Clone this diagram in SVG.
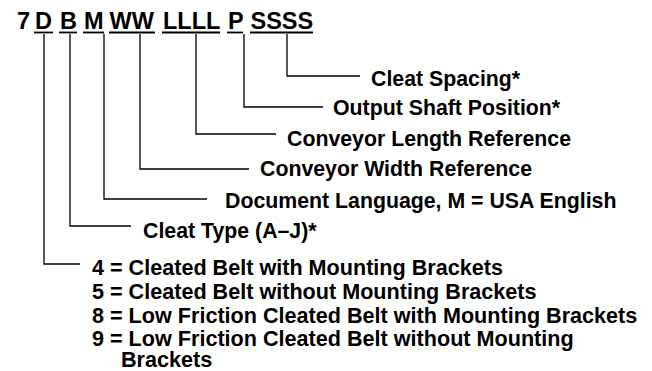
<svg xmlns="http://www.w3.org/2000/svg" width="652" height="371" viewBox="0 0 652 371">
<style>
text{font-family:"Liberation Sans",Arial,Helvetica,sans-serif;font-weight:bold;fill:#000}
.t{font-size:23.5px}
.l{font-size:21.3px}
.b{font-size:21.6px}
.u{stroke:#000;stroke-width:1.8;fill:none}
.c{stroke:#000;stroke-width:1.3;fill:none}
</style>
<rect width="652" height="371" fill="#fff"/>
<g id="code">
<text class="t" x="17" y="29">7</text>
<g id="seg-D"><text class="t" x="35" y="29">D</text><line class="u" x1="34" y1="32.5" x2="53" y2="32.5"/></g>
<g id="seg-B"><text class="t" x="60" y="29">B</text><line class="u" x1="59" y1="32.5" x2="77" y2="32.5"/></g>
<g id="seg-M"><text class="t" x="84" y="29">M</text><line class="u" x1="83" y1="32.5" x2="104" y2="32.5"/></g>
<g id="seg-WW"><text class="t" x="109.5" y="29">WW</text><line class="u" x1="109" y1="32.5" x2="155" y2="32.5"/></g>
<g id="seg-LLLL"><text class="t" x="163" y="29">LLLL</text><line class="u" x1="162" y1="32.5" x2="220" y2="32.5"/></g>
<g id="seg-P"><text class="t" x="228" y="29">P</text><line class="u" x1="227" y1="32.5" x2="243" y2="32.5"/></g>
<g id="seg-SSSS"><text class="t" x="250.5" y="29">SSSS</text><line class="u" x1="250" y1="32.5" x2="313" y2="32.5"/></g>
</g>
<g id="connectors">
<polyline class="c" points="287,34 287,76 360,76"/>
<polyline class="c" points="244,34 244,107 323,107"/>
<polyline class="c" points="196,34 196,134 276,134"/>
<polyline class="c" points="140,34 140,169 249,169"/>
<polyline class="c" points="104,34 104,199 207,199"/>
<polyline class="c" points="70,34 70,226 131,226"/>
<polyline class="c" points="44,34 44,264 80,264"/>
</g>
<g id="cleat-spacing"><text class="l" x="371" y="86">Cleat Spacing*</text></g>
<g id="output-shaft"><text class="l" x="333" y="115">Output Shaft Position*</text></g>
<g id="length-ref"><text class="l" x="287" y="146">Conveyor Length Reference</text></g>
<g id="width-ref"><text class="l" x="260" y="176">Conveyor Width Reference</text></g>
<g id="doc-lang"><text class="l" x="225" y="208">Document Language, M = USA English</text></g>
<g id="cleat-type"><text class="l" x="143" y="238">Cleat Type (A–J)*</text></g>
<g id="belt-type">
<text class="b" x="92" y="275">4 = Cleated Belt with Mounting Brackets</text>
<text class="b" x="92" y="299">5 = Cleated Belt without Mounting Brackets</text>
<text class="b" x="92" y="322.5">8 = Low Friction Cleated Belt with Mounting Brackets</text>
<text class="b" x="92" y="346">9 = Low Friction Cleated Belt without Mounting</text>
<text class="b" x="121" y="367">Brackets</text>
</g>
</svg>
